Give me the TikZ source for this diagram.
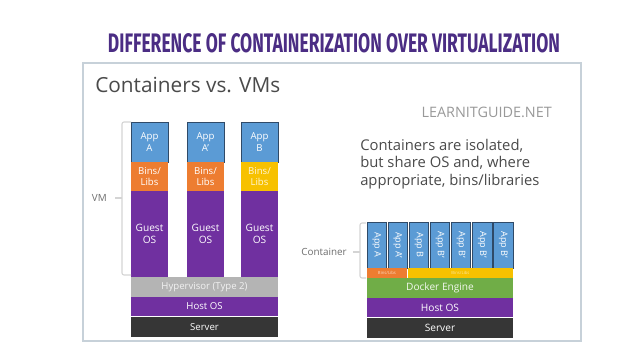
\documentclass[tikz,border=0pt]{standalone}
\usepackage{fontspec}
\setmainfont{Open Sans}
\newfontfamily\titlefont{Fira Sans}
\definecolor{titlepurple}{HTML}{4B2D84}
\definecolor{framec}{HTML}{C7D1D9}
\definecolor{appblue}{HTML}{5B9BD5}
\definecolor{appedge}{HTML}{2F4A68}
\definecolor{binsorange}{HTML}{ED7D31}
\definecolor{binsyellow}{HTML}{F7C100}
\definecolor{ospurple}{HTML}{7030A0}
\definecolor{hypgray}{HTML}{B4B4B4}
\definecolor{serverdark}{HTML}{363636}
\definecolor{dockergreen}{HTML}{70AD47}
\definecolor{textgray}{HTML}{4A4A4A}
\definecolor{brackgray}{HTML}{D4D4D4}
\def\u{0.75pt}
\tikzset{
  blk/.style={anchor=north west, inner sep=0pt, outer sep=0pt, text=white, align=center,
     font=\fontsize{7.2}{8.6}\selectfont},
  appbox/.style={blk, fill=appblue, draw=appedge, line width=0.7pt},
  capp/.style={appbox, minimum width=19.5*\u, minimum height=46*\u},
  vapp/.style={appbox, minimum width=37*\u, minimum height=40*\u},
  vbins/.style={blk, minimum width=37*\u, minimum height=29*\u},
  vguest/.style={blk, fill=ospurple, minimum width=37*\u, minimum height=86*\u,
     font=\fontsize{7.6}{9.4}\selectfont},
  layer/.style={blk, minimum width=147*\u},
  clayer/.style={blk, minimum width=146*\u},
  brk/.style={draw=brackgray, line width=0.8pt, rounded corners=1.5pt},
  lbl/.style={text=textgray!80, font=\fontsize{7.4}{8.4}\selectfont, inner sep=0pt}
}
\begin{document}
\begin{tikzpicture}[x=0.75pt,y=-0.75pt]
\useasboundingbox (0,0) rectangle (640,360);
\fill[white] (0,0) rectangle (640,360);
% title
\node[anchor=base, inner sep=0pt, text=titlepurple] (title) at (334,53)
  {\resizebox{339pt}{14.25pt}{\titlefont\bfseries DIFFERENCE OF CONTAINERIZATION OVER VIRTUALIZATION}};
% slide frame
\node[draw=framec, line width=1.5pt, fill=white, anchor=north west, inner sep=0pt,
  minimum width=498*\u, minimum height=278*\u] (frame) at (82,62) {};
\node[anchor=west, inner sep=0pt, text=textgray, font=\fontsize{15.6}{18}\selectfont] (head) at (95,85) {Containers vs. VMs};
\node[anchor=east, inner sep=0pt, text=black!40, font=\fontsize{10.8}{12}\selectfont] (site) at (552,112) {LEARNITGUIDE.NET};
\node[anchor=north west, inner sep=0pt, text=textgray, align=left,
  font=\fontsize{11.1}{13.1}\selectfont] (para) at (360,139)
  {Containers are isolated,\\but share OS and, where\\appropriate, bins/libraries};
% VM stack
\node[vapp] (a1) at (131,122) {App\\A};
\node[vapp] (a2) at (187,122) {App\\A'};
\node[vapp] (a3) at (241,122) {App\\B};
\node[vbins, fill=binsorange] (b1) at (131,162) {Bins/\\Libs};
\node[vbins, fill=binsorange] (b2) at (187,162) {Bins/\\Libs};
\node[vbins, fill=binsyellow, text=white!85!binsyellow] (b3) at (241,162) {Bins/\\Libs};
\node[vguest] (g1) at (131,191) {Guest\\OS};
\node[vguest] (g2) at (187,191) {Guest\\OS};
\node[vguest] (g3) at (241,191) {Guest\\OS};
\node[layer, fill=hypgray, minimum height=20*\u, text=white!95!black] (hyp) at (131,277) {Hypervisor (Type 2)};
\node[layer, fill=ospurple, minimum height=19*\u] (host1) at (131,297) {Host OS};
\node[layer, fill=serverdark, minimum height=20*\u] (srv1) at (131,317) {Server};
% VM bracket
\coordinate (vt) at (131,122);
\coordinate (vb) at (131,275);
\coordinate (vm) at (115,198);
\draw[brk] (vt) -| (122,198) |- (vb);
\draw[brk] (122,198) -- (vm);
\node[lbl, anchor=east] (vmlbl) at (107,198) {VM};
% container stack
\foreach \i/\t in {0/App A,1/App A',2/App B,3/App B',4/App B',5/App B',6/App B'}{
  \node[capp] (c\i) at ({367+\i*21.1},222) {};
  \node[rotate=-90, text=white, inner sep=0pt, font=\fontsize{6.8}{7}\selectfont] (ct\i) at (c\i.center) {\t};
}
\node[blk, fill=binsorange, minimum width=40*\u, minimum height=10*\u, font=\fontsize{3.2}{3.2}\selectfont, text=white!70!binsorange] (cb1) at (367,268) {Bins/Libs};
\node[blk, fill=binsyellow, minimum width=105*\u, minimum height=10*\u, font=\fontsize{3.2}{3.2}\selectfont, text=white!60!binsyellow] (cb2) at (408,268) {Bins/Libs};
\node[clayer, fill=dockergreen, minimum height=20*\u, text=white!90!dockergreen, font=\fontsize{7.6}{8.6}\selectfont] (dock) at (367,278) {Docker Engine};
\node[clayer, fill=ospurple, minimum height=19*\u, font=\fontsize{7.6}{8.6}\selectfont] (host2) at (367,298) {Host OS};
\node[clayer, fill=serverdark, minimum height=20*\u, font=\fontsize{7.6}{8.6}\selectfont] (srv2) at (367,318) {Server};
% container bracket
\coordinate (ct) at (366,223);
\coordinate (cb) at (366,278);
\coordinate (cm) at (353,252);
\draw[brk] (ct) -| (360,252) |- (cb);
\draw[brk] (360,252) -- (cm);
\node[lbl, anchor=east] (clbl) at (347,252) {Container};
\end{tikzpicture}
\end{document}
